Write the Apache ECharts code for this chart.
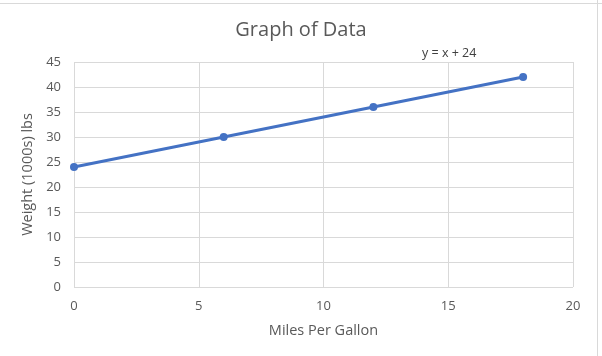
<!DOCTYPE html>
<html><head><meta charset="utf-8">
<script src="https://cdn.jsdelivr.net/npm/echarts@6/dist/echarts.min.js"></script>
<style>html,body{margin:0;padding:0;background:#fff;}#c{width:602px;height:356px;}</style>
</head><body><div id="c"></div>
<script>
const xValues = [0, 6, 12, 18];
const yValues = [24, 30, 36, 42];
const titleText = 'Graph of Data';
const equationText = 'y = x + 24';
const xAxisName = 'Miles Per Gallon';
const yAxisName = 'Weight (1000s) lbs';

const chart = echarts.init(document.getElementById('c'), null, {renderer: 'canvas'});
const font = 'Open Sans, sans-serif';
chart.setOption({
  animation: false,
  backgroundColor: '#fff',
  title: {text: titleText, left: 'center', top: 15, textStyle: {fontFamily: font, fontSize: 20, fontWeight: 'normal', color: '#595959'}},
  graphic: [
    {type: 'text', left: 422, top: 47, style: {text: equationText, font: '12.5px ' + font, fill: '#404040'}},
    {type: 'line', shape: {x1: 0, y1: 3.5, x2: 602, y2: 3.5}, style: {stroke: '#d9d9d9', lineWidth: 1}},
    {type: 'line', shape: {x1: 597.5, y1: 0, x2: 597.5, y2: 356}, style: {stroke: '#d9d9d9', lineWidth: 1}}
  ],
  grid: {left: 74, right: 29, top: 62, bottom: 69},
  xAxis: {
    type: 'value', min: 0, max: 20, interval: 5,
    name: xAxisName, nameLocation: 'middle', nameGap: 36,
    nameTextStyle: {fontFamily: font, fontSize: 14.5, color: '#595959'},
    axisLine: {show: false}, axisTick: {show: false},
    axisLabel: {fontFamily: font, fontSize: 13, color: '#595959', margin: 13},
    splitLine: {show: true, lineStyle: {color: '#d9d9d9', width: 1}}
  },
  yAxis: {
    type: 'value', min: 0, max: 45, interval: 5,
    name: yAxisName, nameLocation: 'middle', nameGap: 31,
    nameTextStyle: {fontFamily: font, fontSize: 14.5, color: '#595959'},
    axisLine: {show: false}, axisTick: {show: false},
    axisLabel: {fontFamily: font, fontSize: 13, color: '#595959', margin: 13},
    splitLine: {show: true, lineStyle: {color: '#d9d9d9', width: 1}}
  },
  series: [{
    type: 'line',
    data: xValues.map((x, i) => [x, yValues[i]]),
    symbol: 'circle', symbolSize: 8,
    lineStyle: {color: '#4472C4', width: 3},
    itemStyle: {color: '#4472C4'}
  }]
});
</script></body></html>
